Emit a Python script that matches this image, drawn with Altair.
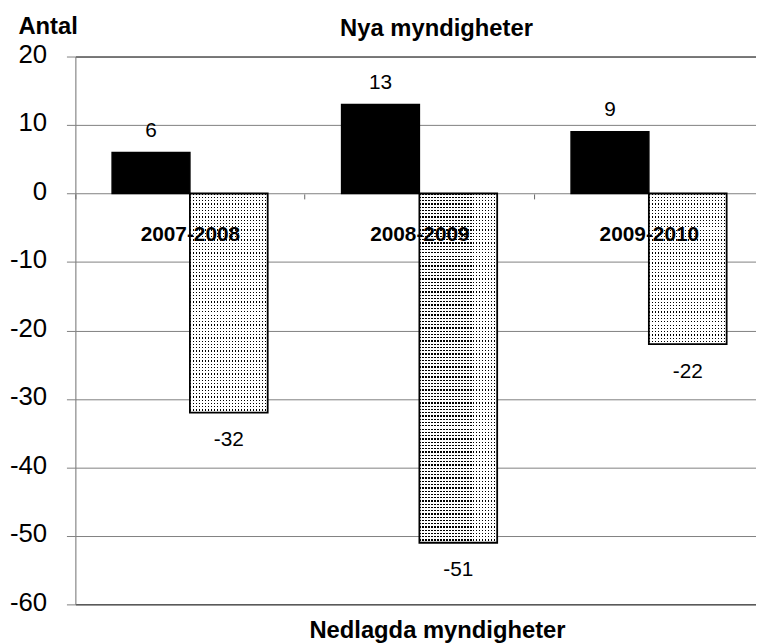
import altair as alt
import pandas as pd

periods = ["2007-2008", "2008-2009", "2009-2010"]
nya = [6, 13, 9]
nedlagda = [-32, -51, -22]
series = ["Nya", "Nedlagda"]
y_ticks = [20, 10, 0, -10, -20, -30, -40, -50, -60]

rows = []
for p, a, b in zip(periods, nya, nedlagda):
    rows.append({"period": p, "serie": "Nya", "antal": a})
    rows.append({"period": p, "serie": "Nedlagda", "antal": b})
df = pd.DataFrame(rows)

FONT = "Liberation Sans"
PLOT_W, PLOT_H = 687, 553
PAD_INNER = 0.322
PAD_OUTER = 0.144
ALIGN = 0.556
Y_MIN, Y_MAX = -60, 20
STEP = PLOT_W / (3 - PAD_INNER + 2 * PAD_OUTER)
HALF_STEP = STEP / 2


def stripes(n, dark_frac, dark, light, horizontal):
    """Linear gradient of n hard-edged stripes (used to imitate the dot hatch)."""
    stops = []
    for i in range(n):
        a = i / n
        b = (i + dark_frac) / n
        c = (i + 1) / n
        stops += [
            {"offset": a, "color": dark},
            {"offset": b, "color": dark},
            {"offset": b, "color": light},
            {"offset": c, "color": light},
        ]
    if horizontal:
        return {"gradient": "linear", "x1": 0, "y1": 0, "x2": 0, "y2": 1, "stops": stops}
    return {"gradient": "linear", "x1": 0, "y1": 0, "x2": 1, "y2": 0, "stops": stops}


x = alt.X(
    "period:N",
    sort=periods,
    scale=alt.Scale(domain=periods, paddingInner=PAD_INNER,
                    paddingOuter=PAD_OUTER, align=ALIGN),
    axis=alt.Axis(
        title="Nya myndigheter",
        orient="bottom",
        offset=-414.3,
        labelAngle=0,
        labelFont=FONT,
        labelFontSize=21,
        labelFontWeight="bold",
        labelColor="black",
        labelBaseline="alphabetic",
        labelPadding=42,
        labelOffset=HALF_STEP,
        tickSize=5,
        tickColor="#666666",
        tickOffset=-HALF_STEP,
        domain=False,
        grid=False,
        zindex=1,
        titleFont=FONT,
        titleFontSize=24,
        titleFontWeight="bold",
        titleColor="black",
        titleX=364,
        titleY=-159.7,
        titleAlign="center",
        titleBaseline="alphabetic",
    ),
)

y = alt.Y(
    "antal:Q",
    stack=None,
    scale=alt.Scale(domain=[Y_MIN, Y_MAX], nice=False, zero=True),
    axis=alt.Axis(
        values=y_ticks,
        labelExpr="replace(datum.label, '\u2212', '-')",
        title="Antal",
        titleAngle=0,
        titleAlign="left",
        titleBaseline="alphabetic",
        titleX=-58,
        titleY=-23,
        titleFont=FONT,
        titleFontSize=24,
        titleFontWeight="bold",
        titleColor="black",
        labelFont=FONT,
        labelFontSize=26,
        labelColor="black",
        labelPadding=20,
        labelOffset=-2,
        tickSize=9,
        tickColor="#808080",
        domainColor="#808080",
        grid=True,
        gridColor={
            "condition": {"test": "datum.value === 20 || datum.value === -60", "value": "black"},
            "value": "#808080",
        },
        gridOpacity=1,
        gridWidth=1,
    ),
)

xoff = alt.XOffset("serie:N", sort=series,
                   scale=alt.Scale(domain=series, paddingInner=0, paddingOuter=0))

base = alt.Chart(df).encode(x=x, xOffset=xoff, y=y)

# solid black bars (new agencies)
nya_bars = base.transform_filter("datum.serie === 'Nya'").mark_bar(
    fill="black", stroke="black", strokeWidth=1.5
)

# dotted bars (closed agencies): horizontal dark stripes, then a vertical
# white mask with gaps, leaving a grid of small dots
px_per_unit = PLOT_H / (Y_MAX - Y_MIN)
dot_layers = []
for p, v in zip(periods, nedlagda):
    n_rows = max(1, round(abs(v) * px_per_unit / 3.3))
    dot_layers.append(
        base.transform_filter(
            f"datum.serie === 'Nedlagda' && datum.period === '{p}'"
        ).mark_bar(fill=stripes(n_rows, 0.38, "#000000", "#ffffff", True), strokeWidth=0)
    )
bar_w = STEP * (1 - PAD_INNER) / 2
n_cols = max(1, round(bar_w / 3.0))
mask = base.transform_filter("datum.serie === 'Nedlagda'").mark_bar(
    fill=stripes(n_cols, 0.42, "rgba(255,255,255,0)", "#ffffff", False), strokeWidth=0
)
outline = base.transform_filter("datum.serie === 'Nedlagda'").mark_bar(
    fill="transparent", stroke="black", strokeWidth=1.8
)

pos_text = base.transform_filter("datum.antal > 0").transform_calculate(
    lbl="'' + datum.antal"
).mark_text(
    baseline="alphabetic", dy=-16, font=FONT, fontSize=21, color="black"
).encode(text="lbl:N")

neg_text = base.transform_filter("datum.antal < 0").transform_calculate(
    lbl="'' + datum.antal"
).mark_text(
    baseline="top", dy=17, font=FONT, fontSize=21, color="black"
).encode(text="lbl:N")

chart = alt.layer(nya_bars, *dot_layers, mask, outline, pos_text, neg_text).properties(
    width=PLOT_W,
    height=PLOT_H,
    autosize=alt.AutoSizeParams(type="none"),
    padding={"left": 68, "top": 46, "right": 0, "bottom": 37},
    title=alt.TitleParams(
        "Nedlagda myndigheter",
        orient="bottom",
        anchor="middle",
        dx=22,
        font=FONT,
        fontSize=24,
        fontWeight="bold",
        color="black",
        baseline="top",
        offset=4,
    ),
).configure_view(stroke=None).configure(background="white")

chart.save("out.html", embed_options={"renderer": "svg", "actions": False})
